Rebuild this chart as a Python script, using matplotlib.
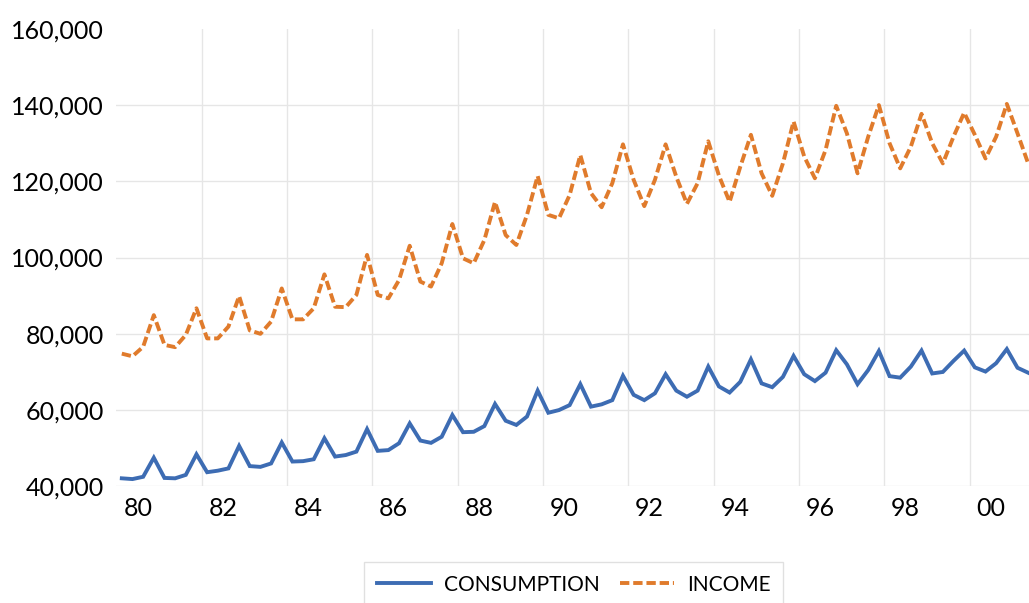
import matplotlib.pyplot as plt
from matplotlib.ticker import FuncFormatter, FixedLocator
import numpy as np

# quarterly data, 1980Q1 .. 2001Q2
start_year = 1980
consumption = [
    42100, 41900, 42500, 47500, 42200, 42100, 43000, 48400,
    43700, 44100, 44700, 50600, 45300, 45100, 46000, 51500,
    46500, 46600, 47100, 52600, 47800, 48200, 49100, 55000,
    49300, 49500, 51300, 56500, 52000, 51400, 53000, 58700,
    54200, 54300, 55800, 61600, 57200, 56100, 58300, 65100,
    59300, 60000, 61300, 66800, 60900, 61500, 62600, 69000,
    64000, 62600, 64400, 69400, 65100, 63500, 65100, 71400,
    66200, 64600, 67400, 73300, 67000, 66000, 68700, 74200,
    69400, 67600, 69800, 75700, 72000, 66800, 70500, 75500,
    68900, 68500, 71400, 75600, 69600, 70000, 72900, 75600,
    71200, 70100, 72300, 76000, 71100, 69800,
]
income = [
    74800, 74100, 76600, 84900, 77100, 76500, 79700, 86700,
    78800, 78800, 81900, 89900, 80900, 80000, 83200, 91900,
    83800, 83800, 86700, 95600, 87100, 87000, 90200, 100700,
    90200, 89300, 94100, 103100, 93700, 92400, 98500, 108800,
    99800, 98500, 104600, 114600, 105900, 103300, 111200, 121400,
    111200, 110300, 116400, 126900, 116900, 113200, 119500, 129700,
    120400, 113500, 120400, 129700, 121200, 114100, 119500, 130500,
    121500, 114600, 123800, 132200, 122100, 116200, 124700, 135700,
    126500, 120800, 128200, 139800, 132600, 122100, 131700, 140000,
    130000, 123400, 129100, 137700, 130000, 124700, 131700, 138000,
    132200, 126000, 131700, 140300, 132600, 124700,
]
year_labels = ['80', '82', '84', '86', '88', '90', '92', '94', '96', '98', '00']

n = len(consumption)
t = start_year + (np.arange(n) + 0.5) / 4.0
label_years = np.arange(start_year, start_year + 2 * len(year_labels), 2)

plt.rcParams['font.family'] = ['Lato', 'DejaVu Sans']

fig = plt.figure(figsize=(10.29, 6.03), dpi=100)
ax = fig.add_axes([0.1132, 0.1935, 0.8868, 0.7587])

ax.plot(t, consumption, color='#3d6cb3', lw=2.8, label='CONSUMPTION',
        solid_joinstyle='miter')
ax.plot(t, income, color='#e07b2c', lw=2.8, ls=(0, (2.4, 1.0)), label='INCOME')

ax.set_xlim(start_year, 2001.395)
ax.set_ylim(40000, 160000)
ax.set_yticks(np.arange(40000, 160001, 20000))
ax.yaxis.set_major_formatter(FuncFormatter(lambda v, p: f'{int(v):,}'))

ax.xaxis.set_major_locator(FixedLocator(label_years + 0.5))
ax.set_xticklabels(year_labels)
ax.xaxis.set_minor_locator(FixedLocator(label_years[1:]))

for s in ax.spines.values():
    s.set_visible(False)
ax.tick_params(axis='both', which='both', length=0, labelsize=18, colors='black')
ax.tick_params(axis='y', pad=9)
ax.tick_params(axis='x', pad=8)

ax.grid(axis='y', which='major', color='#e6e6e6', lw=1.0)
ax.grid(axis='x', which='minor', color='#e6e6e6', lw=1.0)
ax.grid(axis='x', which='major', visible=False)
ax.yaxis.get_gridlines()[-1].set_visible(False)
ax.set_axisbelow(True)

leg = ax.legend(loc='upper center', bbox_to_anchor=(0.5575, 0.085),
                bbox_transform=fig.transFigure, ncol=2, frameon=True,
                fontsize=15, handlelength=2.6, columnspacing=1.0,
                handletextpad=0.6, borderpad=0.6, fancybox=False)
leg.get_frame().set_edgecolor('#d9d9d9')
leg.get_frame().set_linewidth(1.0)

fig.savefig('out.png', dpi=100)
